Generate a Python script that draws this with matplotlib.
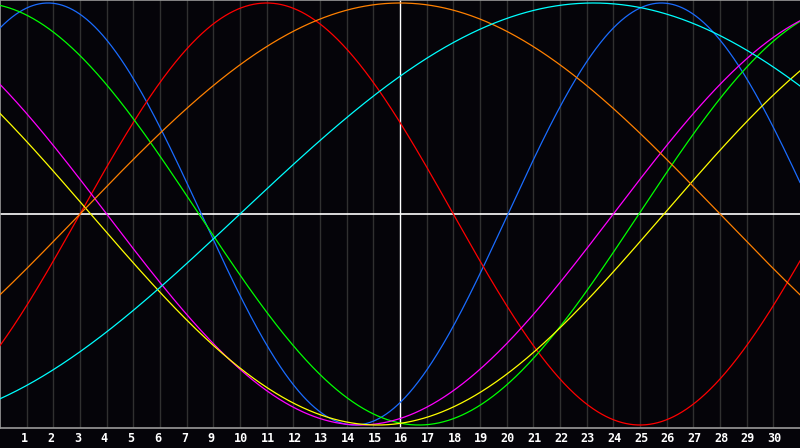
import numpy as np
import matplotlib
matplotlib.use('Agg')
import matplotlib.pyplot as plt

# biorhythm cycles: length in days, day of the upward zero crossing
names = ['physical', 'emotional', 'intellectual', 'intuitive', 'aesthetic', 'awareness', 'spiritual']
periods = [23, 28, 33, 38, 43, 48, 53]
zero_days = [-3.95, 3.0, 23.96, 23.0, 24.9, 3.0, 9.0]
colors = ['#1a6cff', '#ff0000', '#00ff00', '#ff00ff', '#ffff00', '#ff8000', '#00ffff']

tick_pos = list(range(1, 30))
tick_labels = ['1', '2', '3', '4', '5', '6', '7', '9', '10', '11', '12', '13', '14', '15',
               '16', '17', '18', '19', '20', '21', '22', '23', '24', '25', '26', '27', '28',
               '29', '30']

bg = '#050409'
fig = plt.figure(figsize=(8, 4.48), dpi=100, facecolor=bg)
ax = fig.add_axes([0, 20 / 448, 1, 428 / 448])
ax.set_facecolor(bg)
ax.set_xlim(0, 30)
ax.set_ylim(-214 / 211, 214 / 211)

for p in tick_pos:
    if p != 15:
        ax.axvline(p, color='#303030', lw=1.0, zorder=1)
ax.axvline(15, color='white', lw=1.0, zorder=2)
ax.axhline(0, color='white', lw=1.2, zorder=2)

t = np.linspace(0, 30, 1200)
for per, z, c in zip(periods, zero_days, colors):
    ax.plot(t, np.sin(2 * np.pi * (t - z) / per), color=c, lw=0.9, zorder=3)

ax.spines['right'].set_visible(False)
for s in ['left', 'top', 'bottom']:
    ax.spines[s].set_color('#9a9a9a')
    ax.spines[s].set_linewidth(1.2)
ax.set_xticks([])
ax.set_yticks([])

for p, lab in zip(tick_pos, tick_labels):
    ax.text(p - 0.22, -214 / 211 - 0.052, lab, color='white', ha='left', va='center',
            fontsize=8.5, fontweight='bold', family='DejaVu Sans Mono', clip_on=False)

fig.savefig('out.png', dpi=100, facecolor=bg)
